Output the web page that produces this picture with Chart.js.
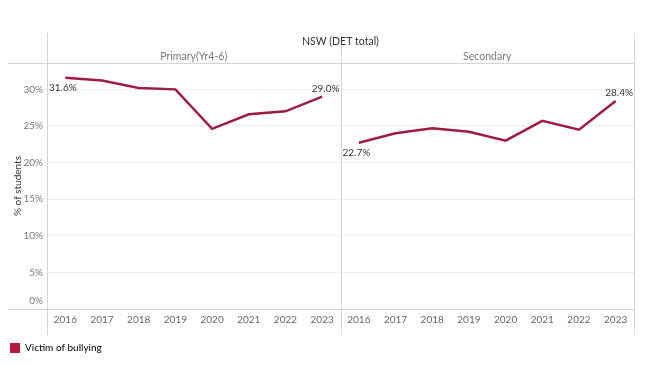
<!DOCTYPE html>
<html>
<head>
<meta charset="utf-8">
<script src="https://cdn.jsdelivr.net/npm/chart.js@4/dist/chart.umd.min.js"></script>
<style>
  body { margin: 0; background: #fff; }
</style>
</head>
<body>
<canvas id="bullyCanvas" width="650" height="366"></canvas>
<script>
const years = ['2016', '2017', '2018', '2019', '2020', '2021', '2022', '2023'];
const panelNames = ['Primary(Yr4-6)', 'Secondary'];
const primaryValues = [31.6, 31.2, 30.2, 30.0, 24.6, 26.6, 27.0, 29.0];
const secondaryValues = [22.7, 24.0, 24.7, 24.2, 23.0, 25.7, 24.5, 28.4];
const yTicks = [0, 5, 10, 15, 20, 25, 30];
const headerTitle = 'NSW (DET total)';
const seriesLabel = 'Victim of bullying';

const LINE_COLOR = '#9c1c42';
const LEGEND_COLOR = '#b8173f';
const FONT = 'Lato, "Noto Sans", sans-serif';

const blanks = years.map(() => null);

// draws panel frame, headers and end-point labels
const panelPlugin = {
  id: 'panelPlugin',
  afterDraw(chart) {
    const { ctx, chartArea, scales } = chart;
    const { left, right, top, bottom } = chartArea;
    const mid = (scales.x.getPixelForValue(7) + scales.x.getPixelForValue(8)) / 2;

    ctx.save();
    ctx.strokeStyle = '#d4d4d4';
    ctx.lineWidth = 1;
    [left, mid, right].forEach(x => {
      const px = Math.round(x) + 0.5;
      ctx.beginPath();
      ctx.moveTo(px, 33);
      ctx.lineTo(px, 335);
      ctx.stroke();
    });
    [top, bottom].forEach(y => {
      const py = Math.round(y) + 0.5;
      ctx.beginPath();
      ctx.moveTo(8, py);
      ctx.lineTo(right, py);
      ctx.stroke();
    });

    ctx.textBaseline = 'middle';
    ctx.textAlign = 'center';
    ctx.fillStyle = '#333';
    ctx.font = '10.5px ' + FONT;
    ctx.fillText(headerTitle, (left + right) / 2, 42);
    ctx.fillStyle = '#777';
    ctx.fillText(panelNames[0], (left + mid) / 2, 57);
    ctx.fillText(panelNames[1], (mid + right) / 2, 57);

    // bottom tick label sits just above the axis line
    ctx.textAlign = 'right';
    ctx.font = '10px ' + FONT;
    ctx.fillText(yTicks[0] + '%', left - 4, scales.y.getPixelForValue(yTicks[0]) - 8);

    // first / last value labels
    ctx.fillStyle = '#333';
    const bounds = [[left, mid], [mid, right]];
    chart.data.datasets.forEach((ds, i) => {
      const meta = chart.getDatasetMeta(i);
      const idx = ds.data.map((v, j) => (v == null ? -1 : j)).filter(j => j >= 0);
      const first = idx[0];
      const last = idx[idx.length - 1];
      const p1 = meta.data[first];
      const p2 = meta.data[last];
      ctx.textAlign = 'left';
      ctx.fillText(ds.data[first].toFixed(1) + '%', bounds[i][0] + 2, p1.y + 10);
      ctx.textAlign = 'right';
      ctx.fillText(ds.data[last].toFixed(1) + '%', bounds[i][1] - 1, p2.y - 8);
    });
    ctx.restore();
  },
};

const ctx = document.getElementById('bullyCanvas').getContext('2d');

new Chart(ctx, {
  type: 'line',
  data: {
    labels: [...years, ...years],
    datasets: [
      {
        label: seriesLabel,
        data: [...primaryValues, ...blanks],
        borderColor: LINE_COLOR,
        backgroundColor: LEGEND_COLOR,
        borderWidth: 2.5,
        pointRadius: 0,
        tension: 0,
      },
      {
        label: seriesLabel,
        data: [...blanks, ...secondaryValues],
        borderColor: LINE_COLOR,
        backgroundColor: LEGEND_COLOR,
        borderWidth: 2.5,
        pointRadius: 0,
        tension: 0,
      },
    ],
  },
  options: {
    responsive: false,
    animation: false,
    devicePixelRatio: 1,
    layout: { padding: { top: 63, left: 0, right: 16, bottom: 3 } },
    plugins: {
      tooltip: { enabled: false },
      legend: {
        position: 'bottom',
        align: 'start',
        labels: {
          boxWidth: 10,
          boxHeight: 10,
          padding: 10,
          color: '#555',
          font: { family: FONT, size: 10 },
          generateLabels() {
            return [{
              text: seriesLabel,
              fillStyle: LEGEND_COLOR,
              strokeStyle: LEGEND_COLOR,
              lineWidth: 0,
              datasetIndex: 0,
            }];
          },
        },
      },
    },
    scales: {
      x: {
        offset: true,
        grid: { display: false, drawTicks: false },
        border: { display: false },
        ticks: {
          color: '#666',
          font: { family: FONT, size: 10 },
          maxRotation: 0,
          autoSkip: false,
          padding: 5,
        },
        afterFit(scale) {
          scale.height = 24;
        },
      },
      y: {
        min: 0,
        max: 33.6,
        border: { display: false },
        afterBuildTicks(scale) {
          scale.ticks = yTicks.map(v => ({ value: v }));
        },
        ticks: {
          color: '#777',
          font: { family: FONT, size: 10 },
          padding: 4,
          callback: v => (v === 0 ? '' : v + '%'),
        },
        grid: {
          color: ctx => (ctx.tick && ctx.tick.value === 0 ? 'rgba(0,0,0,0)' : '#efefef'),
          drawTicks: false,
        },
        title: {
          display: true,
          text: '% of students',
          color: '#333',
          font: { family: FONT, size: 10 },
          padding: { top: 12, bottom: 0 },
        },
        afterFit(scale) {
          scale.width = 47;
        },
      },
    },
  },
  plugins: [panelPlugin],
});
</script>
</body>
</html>
